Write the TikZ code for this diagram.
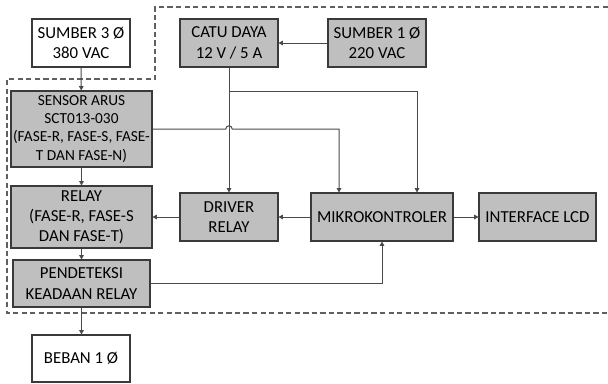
\documentclass[tikz,border=0pt]{standalone}
\usepackage{fontspec}
\setmainfont{Carlito}
\usetikzlibrary{arrows.meta,calc}
\definecolor{boxgray}{HTML}{BFBFBF}
\definecolor{edgegray}{HTML}{3A3A3A}
\definecolor{linegray}{HTML}{4A4A4A}
\definecolor{dashgray}{HTML}{606060}

\begin{document}
\begin{tikzpicture}[
  x=0.75pt, y=-0.75pt,
  blk/.style={draw=edgegray, line width=0.8pt, minimum height=36pt, inner sep=1pt,
    font=\fontsize{12.6}{15.5}\selectfont, align=center, fill=#1},
  blk/.default=boxgray,
  arr/.style={-{Triangle[length=3.2pt,width=3.4pt]}, line width=0.75pt, color=linegray},
  zone/.style={dashed, dash pattern=on 4pt off 2.4pt, line width=0.8pt, color=dashgray},
]
  \useasboundingbox (0,0) rectangle (608,383);

  % boundary of the controller part
  \draw[zone] (608,7) -- (155,7) -- (155,79) -- (7,79) -- (7,313) -- (608,313);

  % blocks
  \node[blk=white, minimum width=73.5pt] (sumber3) at (81,43) {SUMBER 3 Ø\\380 VAC};
  \node[blk, minimum width=73.5pt] (catu) at (229,43) {CATU DAYA\\12 V / 5 A};
  \node[blk, minimum width=73.5pt] (sumber1) at (377,43) {SUMBER 1 Ø\\220 VAC};
  \node[blk, minimum width=105.75pt, minimum height=57pt, font=\fontsize{11.5}{13.6}\selectfont] (sensor) at (81.5,129)
    {SENSOR ARUS\\SCT013-030\\(FASE-R, FASE-S, FASE-\\T DAN FASE-N)};
  \node[blk, minimum width=105.75pt, minimum height=46.5pt, font=\fontsize{12.6}{15}\selectfont] (relay) at (81.5,217)
    {RELAY\\(FASE-R, FASE-S\\DAN FASE-T)};
  \node[blk, minimum width=73.5pt] (driver) at (229,217) {DRIVER\\RELAY};
  \node[blk, minimum width=106.5pt] (mikro) at (382,217) {MIKROKONTROLER};
  \node[blk, minimum width=87.75pt] (lcd) at (537.5,217) {INTERFACE LCD};
  \node[blk, minimum width=102.75pt, minimum height=35.25pt] (deteksi) at (81.5,283.5)
    {PENDETEKSI\\KEADAAN RELAY};
  \node[blk=white, minimum width=73.5pt, minimum height=35.25pt] (beban) at (81,358.5) {BEBAN 1 Ø};

  \coordinate (tap) at (229,91);
  \coordinate (hop) at (229,129);

  % connections
  \draw[arr] (sumber3) -- (sensor);
  \draw[arr] (sensor) -- (relay);
  \draw[arr] (relay.south) -- (relay.south |- deteksi.north);
  \draw[arr] (deteksi.south) -- (deteksi.south |- beban.north);
  \draw[arr] (sumber1) -- (catu);
  \draw[arr] (catu) -- (driver);
  \draw[arr] (tap) -| ([xshift=26.25pt]mikro.north);
  \draw[arr] (sensor.east) -- ([xshift=-2.4pt]hop) arc[start angle=180, end angle=0, radius=2.4pt]
    -| ([xshift=-32.25pt]mikro.north);
  \draw[arr] (mikro) -- (driver);
  \draw[arr] (driver) -- (relay);
  \draw[arr] (mikro) -- (lcd);
  \draw[arr] (deteksi.east) -| (mikro.south);
\end{tikzpicture}
\end{document}
